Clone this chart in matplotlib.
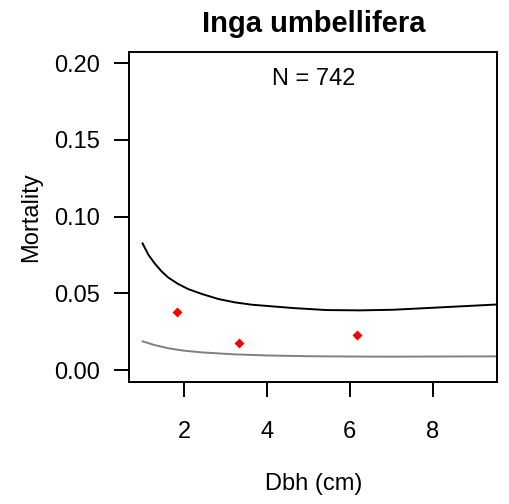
import matplotlib
matplotlib.use("Agg")
import matplotlib.pyplot as plt

plt.rcParams['font.family'] = ['Liberation Sans', 'DejaVu Sans']

# observed mortality by size class
obs_dbh = [1.82, 3.33, 6.18]
obs_mort = [0.038, 0.0174, 0.0228]

# upper curve
upper_dbh = [1.0, 1.14, 1.30, 1.46, 1.62, 1.86, 2.10, 2.43, 2.83, 3.23, 3.63, 3.95,
             4.64, 5.44, 6.25, 7.05, 7.86, 8.66, 9.6]
upper_mort = [0.0826, 0.0752, 0.0693, 0.0643, 0.0603, 0.0561, 0.0528, 0.0496, 0.0463,
              0.0441, 0.0426, 0.0419, 0.0404, 0.0391, 0.0389, 0.0393, 0.0404, 0.0415, 0.0428]

# lower curve
lower_dbh = [1.0, 1.3, 1.62, 2.0, 2.43, 3.23, 4.0, 5.0, 6.0, 7.0, 8.0, 9.6]
lower_mort = [0.0187, 0.0162, 0.0142, 0.0126, 0.0115, 0.0102, 0.0095, 0.0090, 0.0088,
              0.0087, 0.0088, 0.0089]

xticks = [2, 4, 6, 8]
yticks = [0.00, 0.05, 0.10, 0.15, 0.20]

fig = plt.figure(figsize=(5.09, 5.04), dpi=100)
ax = fig.add_axes([0.254, 0.2415, 0.723, 0.656])

ax.plot(upper_dbh, upper_mort, color='black', lw=1.4)
ax.plot(lower_dbh, lower_mort, color='#808080', lw=1.4)
ax.plot(obs_dbh, obs_mort, 'D', color='red', ms=5.6, mec='none')

ax.set_xlim(0.68, 9.56)
ax.set_ylim(-0.008, 0.2076)
ax.set_xticks(xticks)
ax.set_xticklabels([str(t) for t in xticks])
ax.set_yticks(yticks)
ax.set_yticklabels([f'{t:.2f}' for t in yticks])

for s in ax.spines.values():
    s.set_linewidth(1.4)
ax.tick_params(axis='both', direction='out', length=10.8, width=1.4, labelsize=17)
ax.tick_params(axis='y', pad=10.6)
ax.tick_params(axis='x', pad=17)

ax.text(0.5, 0.916, 'N = 742', transform=ax.transAxes, ha='center', va='center', fontsize=17)
ax.set_title('Inga umbellifera', fontsize=21, fontweight='bold', pad=14)
ax.set_ylabel('Mortality', fontsize=17, labelpad=8.6)
ax.set_xlabel('Dbh (cm)', fontsize=17, labelpad=22)

fig.savefig('out.png', dpi=100)
